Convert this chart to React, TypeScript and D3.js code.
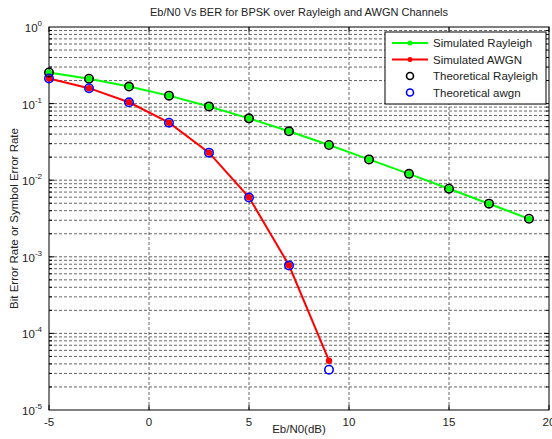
import * as d3 from 'd3';
import React, { useEffect, useRef } from 'react';

// Eb/N0 points (dB)
const ebn0 = [-5, -3, -1, 1, 3, 5, 7, 9, 11, 13, 15, 17, 19];

// values
const simRayleigh = [0.254, 0.211, 0.167, 0.127, 0.0918, 0.0641, 0.0436, 0.0288, 0.0187, 0.0121, 0.00774, 0.00493, 0.00313];
const theoRayleigh = [0.255, 0.211, 0.167, 0.127, 0.0919, 0.0642, 0.0435, 0.0288, 0.0187, 0.0121, 0.00773, 0.00494, 0.00314];
const simAwgn = [0.213, 0.159, 0.104, 0.0563, 0.0229, 0.00598, 0.000775, 0.000044];
const theoAwgn = [0.213, 0.159, 0.104, 0.0563, 0.0229, 0.00595, 0.000772, 0.0000336];

const xTicks = [-5, 0, 5, 10, 15, 20];
const yExps = [0, -1, -2, -3, -4, -5];
const legendLabels = ['Simulated Rayleigh', 'Simulated AWGN', 'Theoretical Rayleigh', 'Theoretical awgn'];

const W = 552, H = 439;
const m = { left: 49, right: 549, top: 27, bottom: 410 };
const FONT = '"Liberation Sans", Arial, sans-serif';

function App() {
  const ref = useRef<SVGSVGElement>(null);

  useEffect(() => {
    const svg = d3.select(ref.current);
    svg.selectAll('*').remove();

    const x = d3.scaleLinear().domain([-5, 20]).range([m.left, m.right]);
    const y = d3.scaleLog().domain([1e-5, 1]).range([m.bottom, m.top]);

    // grid
    const grid = svg.append('g').attr('stroke', '#000').attr('stroke-width', 0.7)
      .attr('stroke-dasharray', '3,2').attr('opacity', 0.85);
    xTicks.slice(1, -1).forEach(t => {
      grid.append('line').attr('x1', x(t)).attr('x2', x(t)).attr('y1', m.top).attr('y2', m.bottom);
    });
    const yGrid: number[] = [];
    for (let e = -5; e < 0; e++) for (let k = 1; k <= 9; k++) yGrid.push(k * Math.pow(10, e));
    yGrid.slice(1).forEach(v => {
      grid.append('line').attr('x1', m.left).attr('x2', m.right).attr('y1', y(v)).attr('y2', y(v));
    });

    // ticks on both sides
    const ticks = svg.append('g').attr('stroke', '#000').attr('stroke-width', 1);
    yGrid.slice(1).forEach(v => {
      const len = Number.isInteger(Math.log10(v)) ? 5 : 3;
      ticks.append('line').attr('x1', m.left).attr('x2', m.left + len).attr('y1', y(v)).attr('y2', y(v));
      ticks.append('line').attr('x1', m.right).attr('x2', m.right - len).attr('y1', y(v)).attr('y2', y(v));
    });
    xTicks.forEach(t => {
      ticks.append('line').attr('x1', x(t)).attr('x2', x(t)).attr('y1', m.bottom).attr('y2', m.bottom - 5);
      ticks.append('line').attr('x1', x(t)).attr('x2', x(t)).attr('y1', m.top).attr('y2', m.top + 5);
    });

    // box
    svg.append('rect').attr('x', m.left).attr('y', m.top)
      .attr('width', m.right - m.left).attr('height', m.bottom - m.top)
      .attr('fill', 'none').attr('stroke', '#000').attr('stroke-width', 1);

    // tick labels
    const lab = svg.append('g').attr('font-family', FONT).attr('font-size', 11.5).attr('fill', '#222');
    xTicks.forEach(t => {
      lab.append('text').attr('x', x(t)).attr('y', m.bottom + 16).attr('text-anchor', 'middle').text(t);
    });
    yExps.forEach(e => {
      const t = lab.append('text').attr('x', m.left - 7).attr('y', y(Math.pow(10, e)) + 5).attr('text-anchor', 'end');
      t.append('tspan').text('10');
      t.append('tspan').attr('dy', -6).attr('font-size', 8).text(e);
    });

    // title and axis labels
    svg.append('text').attr('x', (m.left + m.right) / 2).attr('y', 16).attr('text-anchor', 'middle')
      .attr('font-family', FONT).attr('font-size', 11).attr('fill', '#222')
      .text('Eb/N0 Vs BER for BPSK over Rayleigh and AWGN Channels');
    svg.append('text').attr('x', (m.left + m.right) / 2).attr('y', 433).attr('text-anchor', 'middle')
      .attr('font-family', FONT).attr('font-size', 11.5).attr('fill', '#222').text('Eb/N0(dB)');
    svg.append('text').attr('transform', `translate(18,${(m.top + m.bottom) / 2}) rotate(-90)`)
      .attr('text-anchor', 'middle').attr('font-family', FONT).attr('font-size', 11.5).attr('fill', '#222')
      .text('Bit Error Rate or Symbol Error Rate');

    const line = d3.line<number>().x((d, i) => x(ebn0[i])).y(d => y(d));

    const drawSim = (vals: number[], color: string) => {
      svg.append('path').datum(vals).attr('d', line).attr('fill', 'none')
        .attr('stroke', color).attr('stroke-width', 2);
      svg.append('g').selectAll('circle').data(vals).join('circle')
        .attr('cx', (d, i) => x(ebn0[i])).attr('cy', d => y(d)).attr('r', 3.2).attr('fill', color);
    };
    const drawTheo = (vals: number[], color: string) => {
      svg.append('g').selectAll('circle').data(vals).join('circle')
        .attr('cx', (d, i) => x(ebn0[i])).attr('cy', d => y(d)).attr('r', 4.2)
        .attr('fill', 'none').attr('stroke', color).attr('stroke-width', 1.6);
    };
    drawSim(simRayleigh, '#00ff00');
    drawSim(simAwgn, '#ff0000');
    drawTheo(theoRayleigh, '#000');
    drawTheo(theoAwgn, '#0000ff');

    // legend
    const lg = svg.append('g');
    lg.append('rect').attr('x', 385).attr('y', 32).attr('width', 161).attr('height', 72)
      .attr('fill', '#fff').attr('stroke', '#000').attr('stroke-width', 1);
    const colors = ['#00ff00', '#ff0000', '#000', '#0000ff'];
    legendLabels.forEach((l, i) => {
      const ly = 43 + i * 16.5;
      if (i < 2) {
        lg.append('line').attr('x1', 392).attr('x2', 428).attr('y1', ly).attr('y2', ly)
          .attr('stroke', colors[i]).attr('stroke-width', 2);
        lg.append('circle').attr('cx', 410).attr('cy', ly).attr('r', 2.5).attr('fill', colors[i]);
      } else {
        lg.append('circle').attr('cx', 410).attr('cy', ly).attr('r', 3.5)
          .attr('fill', 'none').attr('stroke', colors[i]).attr('stroke-width', 1.6);
      }
      lg.append('text').attr('x', 433).attr('y', ly + 4).attr('font-family', FONT)
        .attr('font-size', 11.5).attr('fill', '#222').text(l);
    });
  }, []);

  return (
    <svg ref={ref} width={W} height={H} style={{ position: 'absolute', left: 0, top: 0, background: '#fff' }} />
  );
}

export default App;
